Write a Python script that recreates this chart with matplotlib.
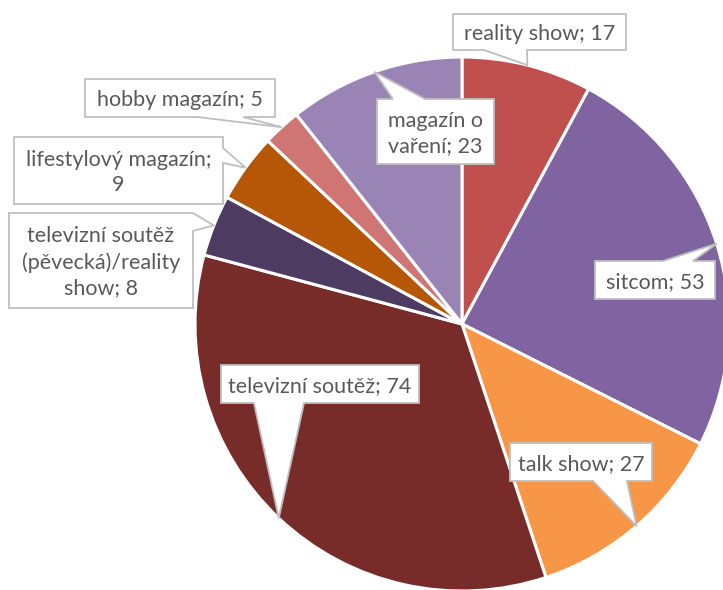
import numpy as np
import matplotlib.pyplot as plt
from matplotlib.patches import Polygon

plt.rcParams['font.family'] = ['Lato', 'DejaVu Sans']

# data (clockwise from 12 o'clock)
labels = ['reality show', 'sitcom', 'talk show', 'televizní soutěž',
          'televizní soutěž\n(pěvecká)/reality\nshow', 'lifestylový magazín',
          'hobby magazín', 'magazín o\nvaření']
values = [17, 53, 27, 74, 8, 9, 5, 23]
colors = ['#C0504D', '#8064A2', '#F79646', '#772C2A',
          '#4D3B62', '#B65708', '#CF7674', '#9A84B6']
# separator between name and value in the callout
seps = ['; ', '; ', '; ', '; ', '; ', ';\n', '; ', '; ']

# callout boxes in pixel coords: left, top, right, bottom, side of pointer, base a, base b
boxes = [
    (453, 14, 626, 50, 'bottom', 484, 527),
    (595, 261, 715, 299, 'top', 663, 693),
    (510, 443, 652, 481, 'bottom', 593, 627),
    (221, 365, 419, 403, 'bottom', 254, 304),
    (9, 213, 193, 308, 'right', 213, 231),
    (14, 137, 223, 204, 'right', 148, 163),
    (85, 79, 275, 117, 'bottom', 197, 243),
    (377, 99, 494, 164, 'top', 393, 425),
]

W, H = 723, 590
cx, cy, R = 462, 324, 267


def callout(l, t, r, b, side, a1, a2, tip):
    if side == 'top':
        pts = [(l, t), (a1, t), tip, (a2, t), (r, t), (r, b), (l, b)]
    elif side == 'bottom':
        pts = [(l, t), (r, t), (r, b), (a2, b), tip, (a1, b), (l, b)]
    elif side == 'right':
        pts = [(l, t), (r, t), (r, a1), tip, (r, a2), (r, b), (l, b)]
    else:
        pts = [(l, t), (r, t), (r, b), (l, b), (l, a2), tip, (l, a1)]
    return Polygon(pts, closed=True, facecolor='white', edgecolor='#BFBFBF',
                   linewidth=1.3, zorder=5)


fig = plt.figure(figsize=(W / 100, H / 100), dpi=100)
ax = fig.add_axes([0, 0, 1, 1])

# y axis goes down like the picture, so counterclock=True turns clockwise on screen
wedges, _ = ax.pie(values, colors=colors, startangle=-90, counterclock=True,
                   center=(cx, cy), radius=R,
                   wedgeprops=dict(edgecolor='white', linewidth=2.2))

for w, name, v, sep, bx in zip(wedges, labels, values, seps, boxes):
    mid = np.deg2rad((w.theta1 + w.theta2) / 2)
    tip = (cx + R * np.cos(mid), cy + R * np.sin(mid))
    l, t, r, b, side, a1, a2 = bx
    ax.add_patch(callout(l, t, r, b, side, a1, a2, tip))
    ax.text((l + r) / 2, (t + b) / 2 + 2, name + sep + str(v), ha='center', va='center',
            fontsize=15.5, color='#595959', linespacing=1.35, zorder=6)

ax.set_xlim(0, W)
ax.set_ylim(H, 0)
ax.set_aspect('equal')
ax.axis('off')

fig.savefig('out.png', dpi=100)
